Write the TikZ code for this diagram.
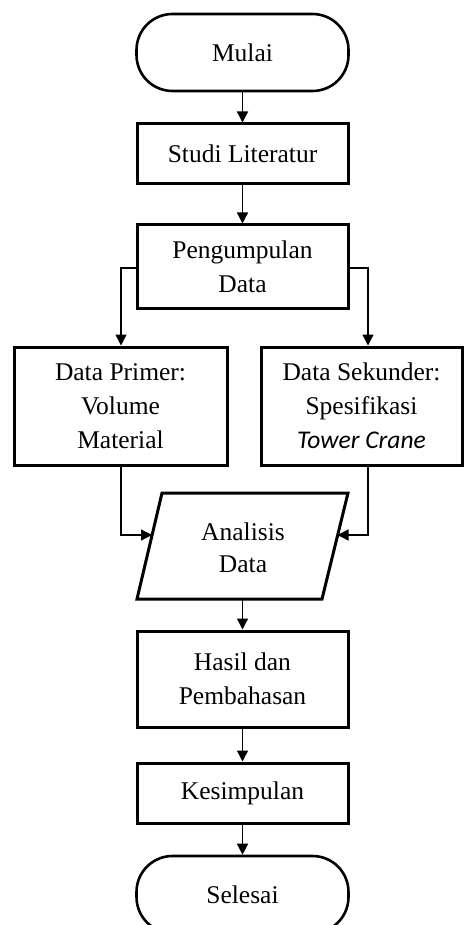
\documentclass[tikz,border=0pt]{standalone}
\usepackage{fontspec}
\setmainfont{Liberation Serif}
\newfontfamily\calib{Carlito}
\usetikzlibrary{arrows.meta}
\begin{document}
\begin{tikzpicture}[x=1pt,y=-1pt,
  box/.style={draw, line width=3pt, align=center, inner sep=0pt,
    font=\fontsize{25.5}{34}\selectfont},
  term/.style={box, line width=2.6pt, rounded corners=36pt},
  txt/.style={align=center, inner sep=0pt, font=\fontsize{25.5}{32}\selectfont},
  arr/.style={line width=1.3pt, -{Triangle[length=11pt,width=11pt]}},
]
\useasboundingbox (0,0) rectangle (463,925);
\node[term, minimum width=212pt, minimum height=77pt] (mulai) at (242.5,52.5) {Mulai};
\node[box, minimum width=211pt, minimum height=60pt] (studi) at (242.5,154) {Studi Literatur};
\node[box, minimum width=211pt, minimum height=83pt] (kumpul) at (242.5,266.5) {Pengumpulan\\Data};
\node[box, minimum width=213pt, minimum height=118pt] (primer) at (120.5,406) {Data Primer:\\Volume\\Material};
\node[box, minimum width=201pt, minimum height=118pt] (sekunder) at (361.5,406) {Data Sekunder:\\Spesifikasi\\{\calib\itshape Tower Crane}};
\draw[line width=3pt, line join=miter] (137,599) -- (162,493) -- (348,493) -- (322,599) -- cycle;
\node[txt] (analisis) at (243,548) {Analisis\\Data};
\coordinate (anbot) at (242.5,599);
\coordinate (anl) at (152,535);
\coordinate (anr) at (337.5,535);
\node[box, minimum width=211pt, minimum height=96pt] (hasil) at (242.5,679) {Hasil dan\\Pembahasan};
\node[box, minimum width=211pt, minimum height=60pt] (simpul) at (242.5,793) {Kesimpulan};
\node[term, minimum width=212pt, minimum height=77pt] (selesai) at (242.5,894.5) {Selesai};

\coordinate (kr) at (368,268);
\coordinate (kl) at (121,268);
\draw[arr] (mulai.south) -- (studi.north);
\draw[arr] (studi.south) -- (kumpul.north);
\draw[arr] (kumpul.west |- kl) -- (kl) -- (kl |- primer.north);
\draw[arr] (kumpul.east |- kr) -- (kr) -- (kr |- sekunder.north);
\draw[arr] (primer.south -| kl) |- (anl);
\draw[arr] (sekunder.south -| kr) |- (anr);
\draw[arr] (anbot) -- (anbot |- hasil.north);
\draw[arr] (hasil.south) -- (simpul.north);
\draw[arr] (simpul.south) -- (selesai.north);
\end{tikzpicture}
\end{document}
